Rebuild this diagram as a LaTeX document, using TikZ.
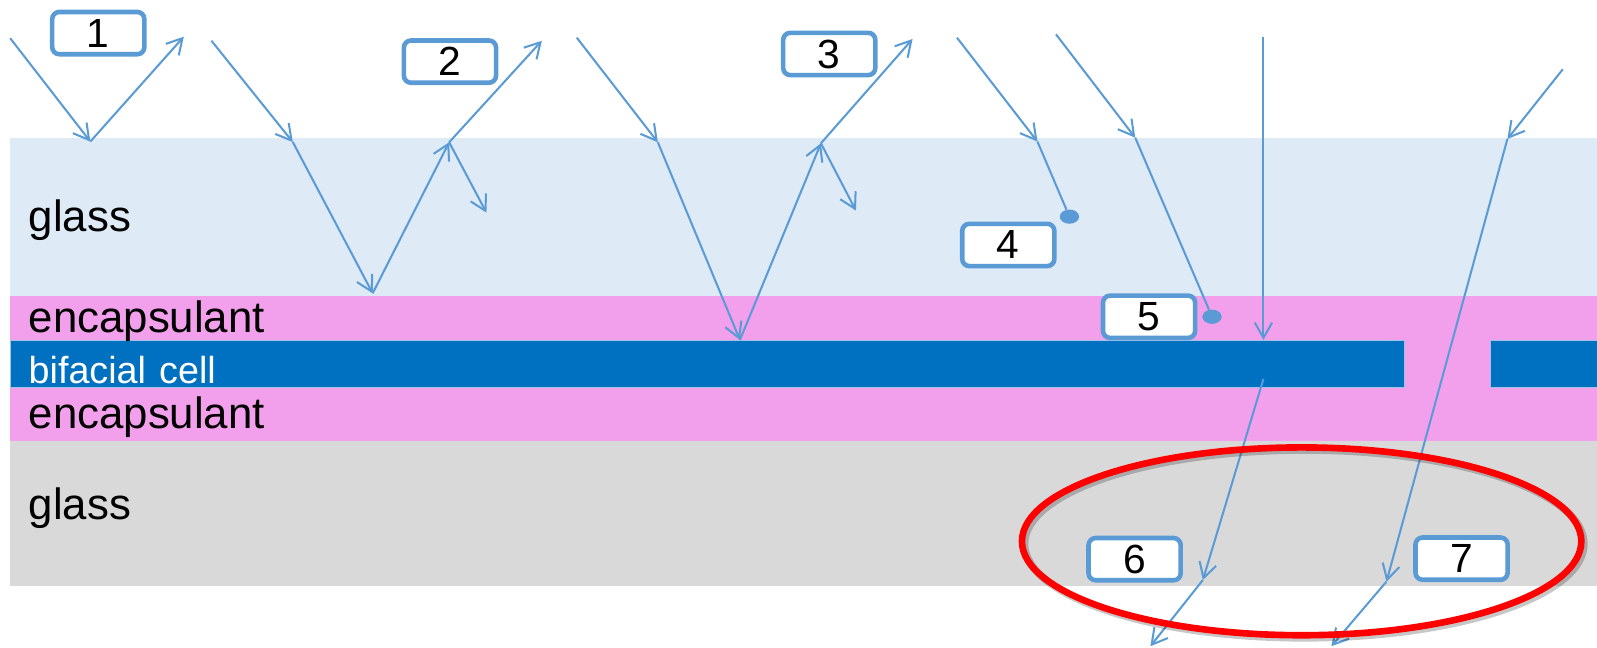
\documentclass[tikz,border=0pt]{standalone}
\usepackage{fontspec}
\setmainfont{Liberation Sans}
\usetikzlibrary{arrows.meta,shapes.geometric}

\definecolor{glassTop}{HTML}{DEEBF7}
\definecolor{encap}{HTML}{F3A0EC}
\definecolor{cellBlue}{HTML}{0070C0}
\definecolor{cellEdge}{HTML}{9DC3E6}
\definecolor{glassBot}{HTML}{D9D9D9}
\definecolor{rayBlue}{HTML}{5B9BD5}
\definecolor{ringRed}{HTML}{FF0000}

\tikzset{
  lightray/.style={draw=rayBlue, line width=2pt},
  rayarrow/.style={lightray, -{Straight Barb[length=15pt,width=17pt]}},
  layerlabel/.style={anchor=base west, inner sep=0pt, font=\fontsize{43}{43}\selectfont},
  celllabel/.style={layerlabel, text=white, font=\fontsize{37}{37}\selectfont},
  numbox/.style={draw=rayBlue, line width=4.5pt, fill=white, rounded corners=7pt,
    minimum width=90.5pt, minimum height=41.5pt, inner sep=0pt,
    font=\fontsize{40}{40}\selectfont},
  absorbdot/.style={ellipse, fill=rayBlue, minimum width=19pt, minimum height=14pt, inner sep=0pt},
}

\begin{document}
\begin{tikzpicture}[x=1pt,y=-1pt]
\useasboundingbox (0,0) rectangle (1568,636);

% module layers
\fill[glassTop] (10,135.3) rectangle (1568,290.4);
\fill[encap] (10,290.4) rectangle (1568,432.7);
\fill[glassBot] (10,432.7) rectangle (1568,575);
\filldraw[fill=cellBlue, draw=cellEdge, line width=1pt] (10,334.3) rectangle (1379.3,380.6);
\filldraw[fill=cellBlue, draw=cellEdge, line width=1pt] (1463.4,334.3) rectangle (1572,380.6);

% layer names
\node[layerlabel] (gTopLbl) at (28,227.5) {glass};
\node[layerlabel] (encTopLbl) at (28,326.6) {encapsulant};
\node[celllabel] (cellLbl) at (28,376.4) {bifacial\hspace{13pt}cell};
\node[layerlabel] (encBotLbl) at (28,420.6) {encapsulant};
\node[layerlabel] (gBotLbl) at (28,509.9) {glass};

% ray path points
\coordinate (r1a) at (10,37.5);
\coordinate (r1b) at (88.7,139);
\coordinate (r1c) at (180.5,36);

\coordinate (r2a) at (207.6,40);
\coordinate (r2b) at (287.5,139.5);
\coordinate (r2c) at (365.9,288);
\coordinate (r2d) at (441,139.7);
\coordinate (r2e) at (532,40);
\coordinate (r2f) at (477.6,208.8);

\coordinate (r3a) at (566.3,37);
\coordinate (r3b) at (645.9,139.7);
\coordinate (r3c) at (726.5,333.8);
\coordinate (r3d) at (806,140.7);
\coordinate (r3e) at (896,38.3);
\coordinate (r3f) at (840.4,206.8);

\coordinate (r4a) at (939.6,37);
\coordinate (r4b) at (1018.6,139);
\node[absorbdot] (d4) at (1050,212.7) {};

\coordinate (r5a) at (1036.8,33.7);
\coordinate (r5b) at (1114.6,135.2);
\node[absorbdot] (d5) at (1190,311) {};

\coordinate (r6a) at (1240.5,36);
\coordinate (r6b) at (1240.5,333.8);
\coordinate (r6c) at (1240.5,372);
\coordinate (r6d) at (1181,569.5);
\coordinate (r6e) at (1129.5,634.5);

\coordinate (r7a) at (1534.4,68);
\coordinate (r7b) at (1480,136.5);
\coordinate (r7c) at (1361.3,571);
\coordinate (r7d) at (1307.2,634.5);

% 1: front reflection
\draw[rayarrow] (r1a) -- (r1b);
\draw[rayarrow] (r1b) -- (r1c);

% 2: reflection at glass / encapsulant
\draw[rayarrow] (r2a) -- (r2b);
\draw[rayarrow] (r2b) -- (r2c);
\draw[rayarrow] (r2c) -- (r2d);
\draw[rayarrow] (r2d) -- (r2e);
\draw[rayarrow] (r2d) -- (r2f);

% 3: reflection at the cell surface
\draw[rayarrow] (r3a) -- (r3b);
\draw[rayarrow] (r3b) -- (r3c);
\draw[rayarrow] (r3c) -- (r3d);
\draw[rayarrow] (r3d) -- (r3e);
\draw[rayarrow] (r3d) -- (r3f);

% 4: absorbed in glass
\draw[rayarrow] (r4a) -- (r4b);
\draw[lightray] (r4b) -- (d4);

% 5: absorbed in encapsulant
\draw[rayarrow] (r5a) -- (r5b);
\draw[lightray] (r5b) -- (d5);

% 6: transmitted through the cell
\draw[rayarrow] (r6a) -- (r6b);
\draw[rayarrow] (r6c) -- (r6d);
\draw[rayarrow] (r6d) -- (r6e);

% 7: transmitted through the gap between cells
\draw[rayarrow] (r7a) -- (r7b);
\draw[rayarrow] (r7b) -- (r7c);
\draw[rayarrow] (r7c) -- (r7d);

% numbered tags
\node[numbox] (n1) at (96.5,32.5) {1};
\node[numbox] (n2) at (441.8,60.5) {2};
\node[numbox] (n3) at (814.2,53) {3};
\node[numbox] (n4) at (990,240.5) {4};
\node[numbox] (n5) at (1128.2,311) {5};
\node[numbox] (n6) at (1114,549) {6};
\node[numbox] (n7) at (1435,548.5) {7};

% highlight ring round the rear losses
\draw[black, opacity=0.22, line width=7.5pt] (1280.5,534) ellipse [x radius=274.6pt, y radius=92.2pt];
\node[ellipse, draw=ringRed, line width=6.5pt, minimum width=549.2pt, minimum height=184.4pt, inner sep=0pt] (hl) at (1278,531.5) {};
\end{tikzpicture}
\end{document}
